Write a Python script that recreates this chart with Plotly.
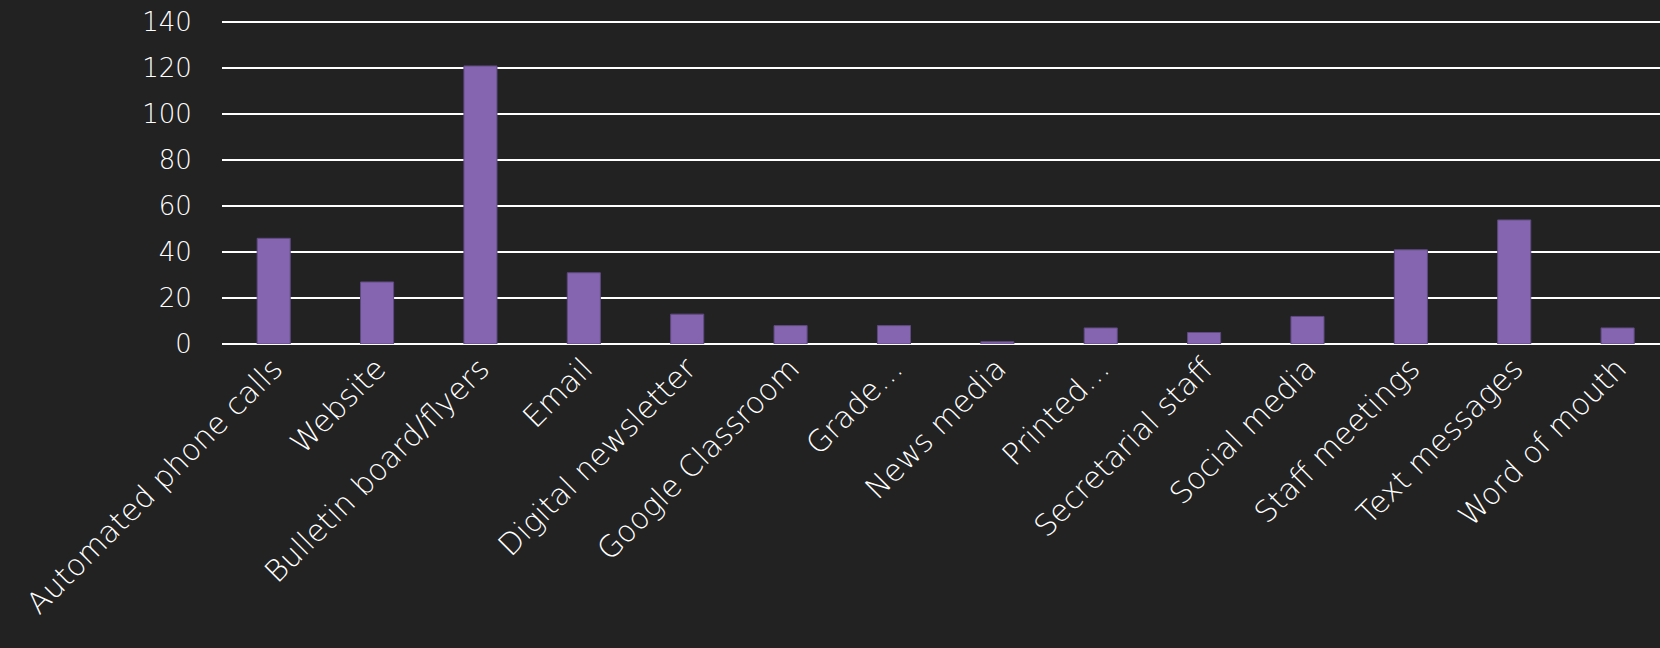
import plotly.graph_objects as go

categories = [
    "Automated phone calls", "Website", "Bulletin board/flyers", "Email",
    "Digital newsletter", "Google Classroom", "Grade…", "News media",
    "Printed…", "Secretarial staff", "Social media", "Staff meetings",
    "Text messages", "Word of mouth",
]
values = [46, 27, 121, 31, 13, 8, 8, 1, 7, 5, 12, 41, 54, 7]
y_ticks = [0, 20, 40, 60, 80, 100, 120, 140]

FONT = "DejaVu Sans"
BG = "#222222"

fig = go.Figure(
    go.Bar(
        x=list(range(len(categories))),
        y=values,
        marker=dict(color="#8565B0", line=dict(color="#5E4A80", width=1)),
        width=0.32,
    )
)

fig.update_layout(
    width=1660,
    height=648,
    margin=dict(l=222, r=0, t=20, b=304),
    paper_bgcolor=BG,
    plot_bgcolor=BG,
    font=dict(family=FONT, color="#FFFFFF", size=26, weight=200),
    showlegend=False,
)

fig.update_xaxes(
    tickmode="array",
    tickvals=list(range(len(categories))),
    ticktext=categories,
    tickangle=-45,
    range=[-0.5, 13.41],
    showgrid=False,
    zeroline=False,
    showline=False,
    ticks="",
    tickfont=dict(size=30, family=FONT, color="#FFFFFF", weight=200),
)

fig.update_yaxes(
    tickmode="array",
    tickvals=y_ticks,
    range=[0, 141],
    showgrid=True,
    gridcolor="#FFFFFF",
    gridwidth=2,
    zeroline=True,
    zerolinecolor="#FFFFFF",
    zerolinewidth=2,
    showline=False,
    ticks="outside",
    ticklen=24,
    tickcolor="rgba(0,0,0,0)",
    tickfont=dict(size=26, family=FONT, color="#FFFFFF", weight=200),
)

fig.write_html(
    "out.html",
    config={"displayModeBar": False},
    post_script="document.body.style.margin='0';document.body.style.background='#222222';",
)
